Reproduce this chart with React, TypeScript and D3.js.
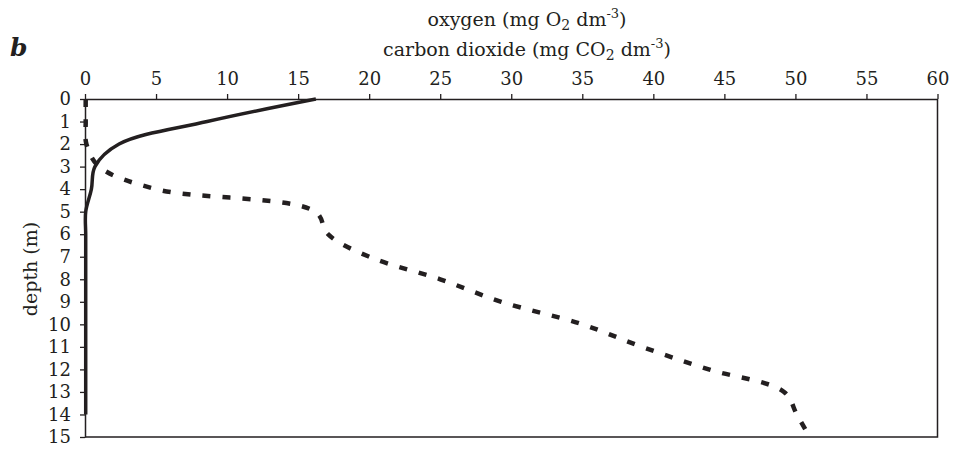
import React, { useEffect, useRef } from "react";
import { select, axisTop, axisLeft, scaleLinear, line, curveCatmullRom } from "d3";

// depth (m) at which both profiles were read
const depthO2 = [0, 1, 2, 3, 4, 5, 6, 7, 8, 9, 10, 11, 12, 13, 14];
const oxygen = [16.25, 8.6, 2.4, 0.7, 0.45, 0.05, 0.05, 0.05, 0.05, 0.05, 0.05, 0.05, 0.05, 0.05, 0.05];

const depthCO2 = [0, 1, 2, 3, 4, 5, 6, 7, 8, 9, 10, 11, 12, 13, 14, 15];
const carbonDioxide = [0.05, 0.05, 0.1, 1.0, 5.0, 16.2, 17.1, 20.0, 25.0, 29.3, 35.0, 39.2, 43.9, 49.2, 50.1, 51.0];

const xTicks = [0, 5, 10, 15, 20, 25, 30, 35, 40, 45, 50, 55, 60];
const yTicks = [0, 1, 2, 3, 4, 5, 6, 7, 8, 9, 10, 11, 12, 13, 14, 15];

const W = 956;
const H = 451;
const FONT = "'DejaVu Serif', serif";
const INK = "#231f20";

const DepthProfile = () => {
  const svgRef = useRef(null);

  useEffect(() => {
    const svg = select(svgRef.current);

    const x = scaleLinear().domain([0, 60]).range([85, 937.5]);
    const y = scaleLinear().domain([0, 15]).range([99, 437]);

    // top axis
    const xAxis = axisTop(x).tickValues(xTicks).tickSize(5).tickSizeOuter(0).tickPadding(9);
    const gx = svg.select<SVGGElement>(".x-axis")
      .attr("transform", `translate(0, ${y(0)})`)
      .call(xAxis);
    gx.select(".domain").attr("stroke", INK).attr("stroke-width", 1.5);
    gx.selectAll("line").attr("stroke", INK).attr("stroke-width", 1.3);
    gx.selectAll("text").attr("font-family", FONT).attr("font-size", 18).attr("fill", INK);

    // left axis
    const yAxis = axisLeft(y).tickValues(yTicks).tickSize(5).tickSizeOuter(0).tickPadding(9);
    const gy = svg.select<SVGGElement>(".y-axis")
      .attr("transform", `translate(${x(0)}, 0)`)
      .call(yAxis);
    gy.select(".domain").attr("stroke", INK).attr("stroke-width", 1.5);
    gy.selectAll("line").attr("stroke", INK).attr("stroke-width", 1.3);
    gy.selectAll("text").attr("font-family", FONT).attr("font-size", 18).attr("fill", INK);

    // right and bottom frame
    svg.select(".frame")
      .attr("d", `M${x(0)},${y(15)}H${x(60)}V${y(0)}`)
      .attr("fill", "none")
      .attr("stroke", INK)
      .attr("stroke-width", 1.5);

    const path = line<number>()
      .curve(curveCatmullRom)
      .x((d) => x(d[0]))
      .y((d) => y(d[1]));

    svg.select(".o2-line")
      .attr("d", path(oxygen.map((v, i) => [v, depthO2[i]])))
      .attr("fill", "none")
      .attr("stroke", INK)
      .attr("stroke-width", 3.5);

    svg.select(".co2-line")
      .attr("d", path(carbonDioxide.map((v, i) => [v, depthCO2[i]])))
      .attr("fill", "none")
      .attr("stroke", INK)
      .attr("stroke-width", 4.5)
      .attr("stroke-dasharray", "8 12");
  }, []);

  return (
    <svg
      ref={svgRef}
      width={W}
      height={H}
      style={{ position: "absolute", left: 0, top: 0, background: "#fff" }}
    >
      <path className="frame" />
      <g className="x-axis" />
      <g className="y-axis" />
      <path className="co2-line" />
      <path className="o2-line" />

      <text x={10} y={56} fontFamily={FONT} fontSize={25} fontWeight="bold" fontStyle="italic" fill={INK}>b</text>

      <text x={527} y={26} textAnchor="middle" fontFamily={FONT} fontSize={19} fill={INK}>
        oxygen (mg O<tspan fontSize={14} dy={4}>2</tspan>
        <tspan dy={-4}> dm</tspan><tspan fontSize={13} dy={-8}>-3</tspan><tspan dy={8}>)</tspan>
      </text>
      <text x={527} y={56} textAnchor="middle" fontFamily={FONT} fontSize={19} fill={INK}>
        carbon dioxide (mg CO<tspan fontSize={14} dy={4}>2</tspan>
        <tspan dy={-4}> dm</tspan><tspan fontSize={13} dy={-8}>-3</tspan><tspan dy={8}>)</tspan>
      </text>

      <text
        transform="translate(37, 269) rotate(-90)"
        textAnchor="middle"
        fontFamily={FONT}
        fontSize={19}
        fill={INK}
      >
        depth (m)
      </text>
    </svg>
  );
};

export default function App() {
  return <DepthProfile />;
}
